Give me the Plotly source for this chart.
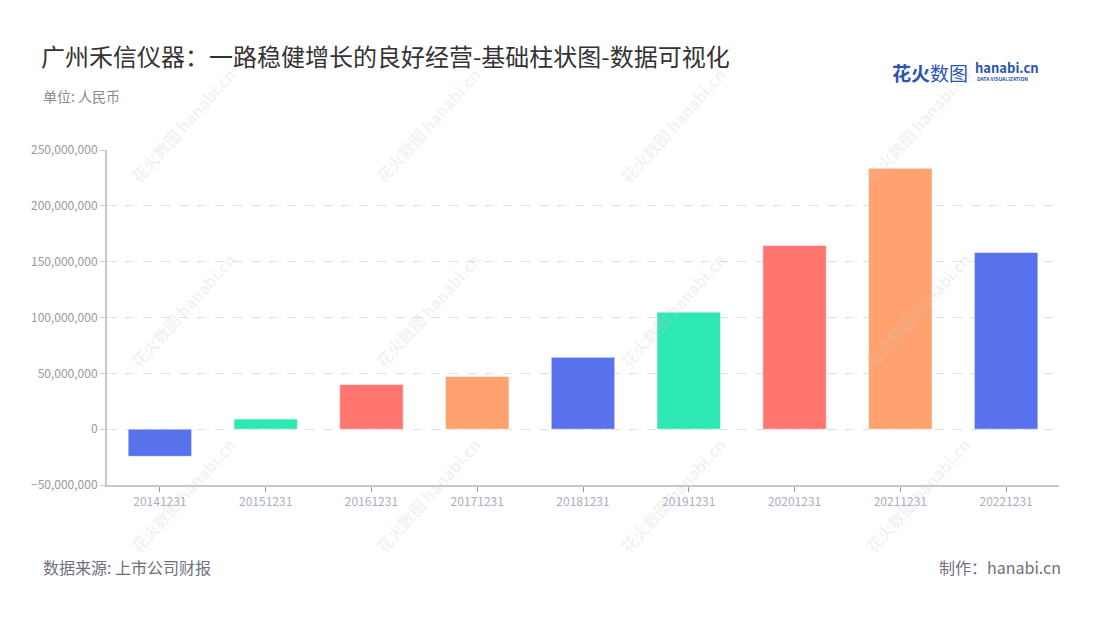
import plotly.graph_objects as go

categories = ["20141231", "20151231", "20161231", "20171231", "20181231",
              "20191231", "20201231", "20211231", "20221231"]
values = [-24.3e6, 9.0e6, 40.0e6, 47.2e6, 64.3e6, 104.8e6, 164.5e6, 233.6e6, 158.2e6]
palette = ["#5872ee", "#2de8b2", "#ff7671", "#ffa26f"]
bar_colors = [palette[i % 4] for i in range(len(categories))]
y_ticks = [-50e6, 0, 50e6, 100e6, 150e6, 200e6, 250e6]

FONT = "Noto Sans CJK SC"
OFF = 8  # page body margin
W, H = 1100 - OFF, 620 - OFF
L, R, T, B = 107 - OFF, 41, 150 - OFF, 135

fig = go.Figure()
fig.add_trace(go.Bar(
    x=categories, y=values,
    marker=dict(color=bar_colors, line=dict(color="rgba(255,255,255,0.5)", width=1)),
    width=0.6,
    hoverinfo="x+y",
))

annotations = []

def pap(px, py):
    fx, fy = px - OFF, py - OFF
    return (fx - L) / (W - L - R), 1 - (fy - T) / (H - T - B)

# watermarks
wm_x = [183, 428, 673, 918]
wm_y = [125, 310, 495]
for cx in wm_x:
    for cy in wm_y:
        x, y = pap(cx, cy)
        annotations.append(dict(
            x=x, y=y, xref="paper", yref="paper",
            xanchor="center", yanchor="middle", showarrow=False,
            text="<b>花火数图</b> <b>hanabi.cn</b>", textangle=-48,
            font=dict(family=FONT, size=16, color="rgba(200,200,200,0.22)"),
        ))

def add_text(px, py, text, size, color, xanchor="left", yanchor="middle"):
    x, y = pap(px, py)
    annotations.append(dict(
        x=x, y=y, xref="paper", yref="paper", xanchor=xanchor, yanchor=yanchor,
        showarrow=False, text=text,
        font=dict(family=FONT, size=size, color=color),
    ))

add_text(39, 55, "广州禾信仪器：一路稳健增长的良好经营-基础柱状图-数据可视化", 24, "#333333")
add_text(41, 96, "单位: 人民币", 14, "#8a8a95")
add_text(41, 567, "数据来源: 上市公司财报", 16, "#70707a")
add_text(1063, 567, "制作：hanabi.cn", 16, "#70707a", xanchor="right")
# logo
add_text(890, 73, "<b>花火</b>数图", 19, "#2a54b0")
add_text(973, 68, "<b>hanabi.cn</b>", 13, "#2a54b0")
add_text(975, 79, "<b>DATA VISUALIZATION</b>", 5, "#2a54b0")

fig.update_layout(
    width=W, height=H,
    paper_bgcolor="white", plot_bgcolor="white",
    margin=dict(l=L, r=R, t=T, b=B),
    showlegend=False,
    bargap=0.4,
    font=dict(family=FONT),
    annotations=annotations,
    xaxis=dict(
        type="category",
        showline=True, linecolor="#c8c8c8", linewidth=2,
        ticks="outside", ticklen=5, tickcolor="#999999", tickwidth=1,
        tickfont=dict(family=FONT, size=12, color="#a8aec0"),
        showgrid=False,
    ),
    yaxis=dict(
        range=[-50e6, 250e6], tickvals=y_ticks, tickformat=",",
        showline=True, linecolor="#c8c8c8", linewidth=2,
        ticks="outside", ticklen=5, tickcolor="#c8c8c8",
        tickfont=dict(family=FONT, size=12, color="#999999"),
        showgrid=True, gridcolor="#e0e0e0", griddash="dash", gridwidth=1,
        zeroline=False,
    ),
)

fig.write_html("out.html")
